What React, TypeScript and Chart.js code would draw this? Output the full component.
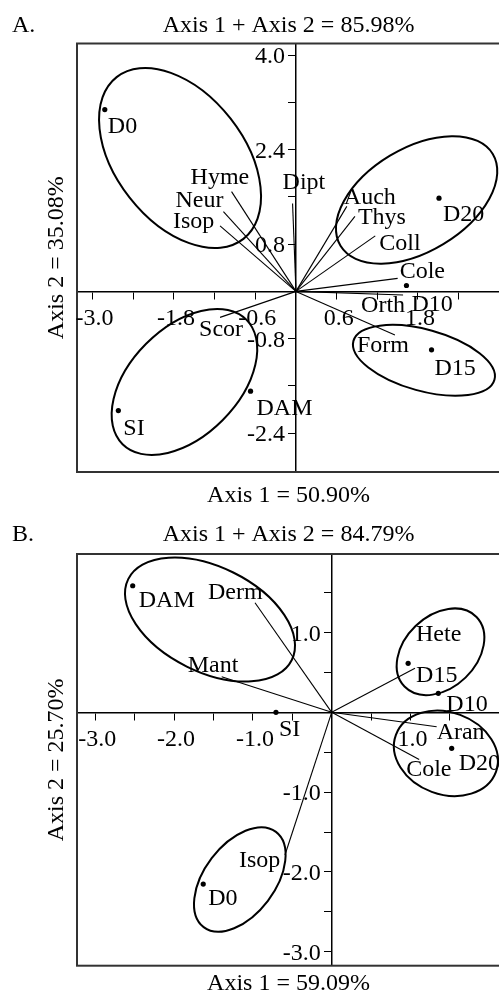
import React, { useEffect, useRef } from "react";
import { Chart, registerables } from "chart.js";

Chart.register(...registerables);

const FONT_FAMILY = "'Liberation Serif', 'Times New Roman', serif";
const FONT_SIZE = 24;

// ================= Panel A data =================
const aSites = ["D0", "D10", "D15", "D20", "DAM", "SI"];
const aSiteX = [-2.82, 1.63, 2.0, 2.11, -0.67, -2.62];
const aSiteY = [3.08, 0.1, -0.99, 1.58, -1.69, -2.02];

const aTaxa = ["Hyme", "Neur", "Isop", "Dipt", "Auch", "Thys", "Coll", "Cole", "Orth", "Form", "Scor"];
const aTaxaX = [-0.95, -1.07, -1.12, -0.05, 0.75, 0.87, 1.17, 1.5, 1.58, 1.46, -1.12];
const aTaxaY = [1.69, 1.35, 1.11, 1.49, 1.44, 1.27, 0.94, 0.22, -0.06, -0.74, -0.44];

// confidence ellipses: centre, spread along each axis, correlation
const aEllCX = [-1.71, 1.78, -1.645, 1.888];
const aEllCY = [2.26, 1.55, -1.534, -1.168];
const aEllSX = [1.195, 1.19, 1.074, 1.047];
const aEllSY = [1.525, 1.08, 1.237, 0.6];
const aEllR = [-0.43, 0.45, 0.45, -0.45];

const aXRange = [-3.23, 3.01];
const aYRange = [-3.06, 4.2];
const aXTicks = [-3.0, -2.4, -1.8, -1.2, -0.6, 0.6, 1.2, 1.8, 2.4];
const aXTickLabels = [-3.0, -1.8, -0.6, 0.6, 1.8];
const aYTicks = [4.0, 3.2, 2.4, 1.6, 0.8, -0.8, -1.6, -2.4];
const aYTickLabels = [4.0, 2.4, 0.8, -0.8, -2.4];

// ================= Panel B data =================
const bSites = ["DAM", "D15", "D10", "SI", "D20", "D0"];
const bSiteX = [-2.525, 0.97, 1.353, -0.707, 1.523, -1.63];
const bSiteY = [1.586, 0.614, 0.238, 0.0, -0.451, -2.152];

const bTaxa = ["Derm", "Mant", "Hete", "Aran", "Cole", "Isop"];
const bTaxaX = [-0.973, -1.396, 1.057, 1.332, 1.11, -0.593];
const bTaxaY = [1.373, 0.446, 0.551, -0.18, -0.59, -1.788];

const bEllCX = [-1.544, 1.381, 1.45, -1.166];
const bEllCY = [1.163, 0.759, -0.514, -2.095];
const bEllSX = [1.079, 0.556, 0.66, 0.581];
const bEllSY = [0.777, 0.543, 0.535, 0.654];
const bEllR = [-0.42, 0.32, -0.17, 0.47];

const bXRange = [-3.232, 2.136];
const bYRange = [-3.175, 1.984];
const bXTicks = [-3.0, -2.5, -2.0, -1.5, -1.0, -0.5, 0.5, 1.0, 1.5];
const bXTickLabels = [-3.0, -2.0, -1.0, 1.0];
const bYTicks = [1.5, 1.0, 0.5, -0.5, -1.0, -1.5, -2.0, -2.5, -3.0];
const bYTickLabels = [1.0, -1.0, -2.0, -3.0];

// ================= label placement (styles, px) =================
const aSiteLabelOffset: [number, number][] = [[3, 23], [5, 26], [3, 25], [4, 23], [6, 24], [5, 24]];
const aTaxaLabelOffset: [number, number][] = [
  [-41, -8], [-48, -5], [-47, 2], [-10, -14], [-3, -2], [3, 8], [4, 14], [2, 0], [-42, 17], [-38, 17], [-21, 19],
];
const bSiteLabelOffset: [number, number][] = [[6, 21], [8, 19], [8, 18], [3, 24], [7, 22], [5, 21]];
const bTaxaLabelOffset: [number, number][] = [[-47, -4], [-34, -5], [1, -27], [0, 12], [-13, 17], [-46, 12]];

type PanelCfg = {
  letter: string;
  title: string;
  xTitle: string;
  yTitle: string;
  xRange: number[];
  yRange: number[];
  xTicks: number[];
  xTickLabels: number[];
  yTicks: number[];
  yTickLabels: number[];
  sites: string[];
  siteX: number[];
  siteY: number[];
  taxa: string[];
  taxaX: number[];
  taxaY: number[];
  ellCX: number[];
  ellCY: number[];
  ellSX: number[];
  ellSY: number[];
  ellR: number[];
  siteLabelOffset: [number, number][];
  taxaLabelOffset: [number, number][];
  canvasTop: number;
  canvasHeight: number;
  padding: { top: number; bottom: number; left: number; right: number };
  titleDy: number;
  xTitleDy: number;
};

const CANVAS_W = 510;

const panelA: PanelCfg = {
  letter: "A.",
  title: "Axis 1 + Axis 2 = 85.98%",
  xTitle: "Axis 1 = 50.90%",
  yTitle: "Axis 2 = 35.08%",
  xRange: aXRange,
  yRange: aYRange,
  xTicks: aXTicks,
  xTickLabels: aXTickLabels,
  yTicks: aYTicks,
  yTickLabels: aYTickLabels,
  sites: aSites,
  siteX: aSiteX,
  siteY: aSiteY,
  taxa: aTaxa,
  taxaX: aTaxaX,
  taxaY: aTaxaY,
  ellCX: aEllCX,
  ellCY: aEllCY,
  ellSX: aEllSX,
  ellSY: aEllSY,
  ellR: aEllR,
  siteLabelOffset: aSiteLabelOffset,
  taxaLabelOffset: aTaxaLabelOffset,
  canvasTop: 0,
  canvasHeight: 510,
  padding: { top: 43.5, bottom: 38, left: 77, right: 10 },
  titleDy: -12,
  xTitleDy: 29.5,
};

const panelB: PanelCfg = {
  letter: "B.",
  title: "Axis 1 + Axis 2 = 84.79%",
  xTitle: "Axis 1 = 59.09%",
  yTitle: "Axis 2 = 25.70%",
  xRange: bXRange,
  yRange: bYRange,
  xTicks: bXTicks,
  xTickLabels: bXTickLabels,
  yTicks: bYTicks,
  yTickLabels: bYTickLabels,
  sites: bSites,
  siteX: bSiteX,
  siteY: bSiteY,
  taxa: bTaxa,
  taxaX: bTaxaX,
  taxaY: bTaxaY,
  ellCX: bEllCX,
  ellCY: bEllCY,
  ellSX: bEllSX,
  ellSY: bEllSY,
  ellR: bEllR,
  siteLabelOffset: bSiteLabelOffset,
  taxaLabelOffset: bTaxaLabelOffset,
  canvasTop: 500,
  canvasHeight: 494,
  padding: { top: 54, bottom: 28.3, left: 77, right: 10 },
  titleDy: -13.5,
  xTitleDy: 24.3,
};

function makeDecor(cfg: PanelCfg) {
  return {
    id: "panelDecor",
    beforeDatasetsDraw(chart: any) {
      const { ctx } = chart;
      const xs = chart.scales.x;
      const ys = chart.scales.y;
      ctx.save();
      ctx.strokeStyle = "#000";
      ctx.lineWidth = 2;
      cfg.ellCX.forEach((ecx, i) => {
        const cx = xs.getPixelForValue(ecx);
        const cy = ys.getPixelForValue(cfg.ellCY[i]);
        const hx = Math.abs(xs.getPixelForValue(ecx + cfg.ellSX[i]) - cx);
        const hy = Math.abs(ys.getPixelForValue(cfg.ellCY[i] + cfg.ellSY[i]) - cy);
        const sxx = hx * hx;
        const syy = hy * hy;
        const sxy = -cfg.ellR[i] * hx * hy; // screen y is flipped
        const mean = (sxx + syy) / 2;
        const d = Math.sqrt(((sxx - syy) / 2) ** 2 + sxy * sxy);
        const a = Math.sqrt(mean + d);
        const b = Math.sqrt(Math.max(mean - d, 0));
        const theta = 0.5 * Math.atan2(2 * sxy, sxx - syy);
        ctx.beginPath();
        ctx.ellipse(cx, cy, a, b, theta, 0, Math.PI * 2);
        ctx.stroke();
      });
      ctx.restore();
    },
    afterDraw(chart: any) {
      const { ctx, chartArea: ca } = chart;
      const xs = chart.scales.x;
      const ys = chart.scales.y;
      ctx.save();
      // frame
      ctx.strokeStyle = "#333";
      ctx.lineWidth = 2;
      ctx.strokeRect(ca.left, ca.top, ca.right - ca.left, ca.bottom - ca.top);

      ctx.fillStyle = "#000";
      ctx.font = `${FONT_SIZE}px ${FONT_FAMILY}`;
      ctx.textBaseline = "alphabetic";

      const x0 = xs.getPixelForValue(0);
      const y0 = ys.getPixelForValue(0);
      // tick labels
      ctx.textAlign = "center";
      cfg.xTickLabels.forEach((v) => ctx.fillText(v.toFixed(1), xs.getPixelForValue(v) + 2, y0 + 34));
      ctx.textAlign = "right";
      cfg.yTickLabels.forEach((v) => ctx.fillText(v.toFixed(1), x0 - 11, ys.getPixelForValue(v) + 8));

      // site labels
      ctx.textAlign = "left";
      cfg.sites.forEach((s, i) => {
        const [dx, dy] = cfg.siteLabelOffset[i];
        ctx.fillText(s, xs.getPixelForValue(cfg.siteX[i]) + dx, ys.getPixelForValue(cfg.siteY[i]) + dy);
      });
      // taxa labels
      cfg.taxa.forEach((t, i) => {
        const [dx, dy] = cfg.taxaLabelOffset[i];
        ctx.fillText(t, xs.getPixelForValue(cfg.taxaX[i]) + dx, ys.getPixelForValue(cfg.taxaY[i]) + dy);
      });

      // titles
      const ty = ca.top + cfg.titleDy;
      ctx.fillText(cfg.letter, 12, ty);
      ctx.textAlign = "center";
      const mid = (ca.left + ca.right) / 2;
      ctx.fillText(cfg.title, mid, ty);
      ctx.fillText(cfg.xTitle, mid, ca.bottom + cfg.xTitleDy);
      ctx.save();
      ctx.translate(63, (ca.top + ca.bottom) / 2);
      ctx.rotate(-Math.PI / 2);
      ctx.fillText(cfg.yTitle, 0, 0);
      ctx.restore();
      ctx.restore();
    },
  };
}

function Panel({ cfg }: { cfg: PanelCfg }) {
  const ref = useRef<HTMLCanvasElement>(null);
  useEffect(() => {
    if (!ref.current) return;
    const vectorSets = cfg.taxa.map((t, i) => ({
      label: t,
      data: [
        { x: 0, y: 0 },
        { x: cfg.taxaX[i], y: cfg.taxaY[i] },
      ],
      showLine: true,
      borderColor: "#000",
      borderWidth: 1.1,
      pointRadius: 0,
      fill: false,
    }));
    const siteSet = {
      label: "sites",
      data: cfg.sites.map((_, i) => ({ x: cfg.siteX[i], y: cfg.siteY[i] })),
      showLine: false,
      pointRadius: 2.6,
      pointBackgroundColor: "#000",
      pointBorderWidth: 0,
      backgroundColor: "#000",
      borderColor: "#000",
    };
    const tickMarks = (vals: number[]) => (axis: any) => {
      axis.ticks = vals.map((v) => ({ value: v }));
    };
    const chart = new Chart(ref.current, {
      type: "scatter",
      data: { datasets: [...vectorSets, siteSet] as any },
      options: {
        animation: false,
        responsive: false,
        devicePixelRatio: 1,
        events: [],
        layout: { padding: cfg.padding },
        plugins: { legend: { display: false }, tooltip: { enabled: false }, title: { display: false } },
        scales: {
          x: {
            type: "linear",
            min: cfg.xRange[0],
            max: cfg.xRange[1],
            position: { y: 0 } as any,
            afterBuildTicks: tickMarks(cfg.xTicks),
            ticks: { display: false },
            grid: { display: true, drawOnChartArea: false, drawTicks: true, tickLength: 7, color: "#000", lineWidth: 1 },
            border: { display: true, color: "#000", width: 1.5 },
          },
          y: {
            type: "linear",
            min: cfg.yRange[0],
            max: cfg.yRange[1],
            position: { x: 0 } as any,
            afterBuildTicks: tickMarks(cfg.yTicks),
            ticks: { display: false },
            grid: { display: true, drawOnChartArea: false, drawTicks: true, tickLength: 7, color: "#000", lineWidth: 1 },
            border: { display: true, color: "#000", width: 1.5 },
          },
        },
      },
      plugins: [makeDecor(cfg)],
    });
    return () => chart.destroy();
  }, [cfg]);
  return (
    <canvas
      ref={ref}
      width={CANVAS_W}
      height={cfg.canvasHeight}
      style={{ position: "absolute", left: 0, top: cfg.canvasTop, width: CANVAS_W, height: cfg.canvasHeight }}
    />
  );
}

export default function App() {
  return (
    <div
      style={{
        position: "absolute",
        left: 0,
        top: 0,
        width: 499,
        height: 994,
        overflow: "hidden",
        background: "#fff",
      }}
    >
      <Panel cfg={panelA} />
      <Panel cfg={panelB} />
    </div>
  );
}
